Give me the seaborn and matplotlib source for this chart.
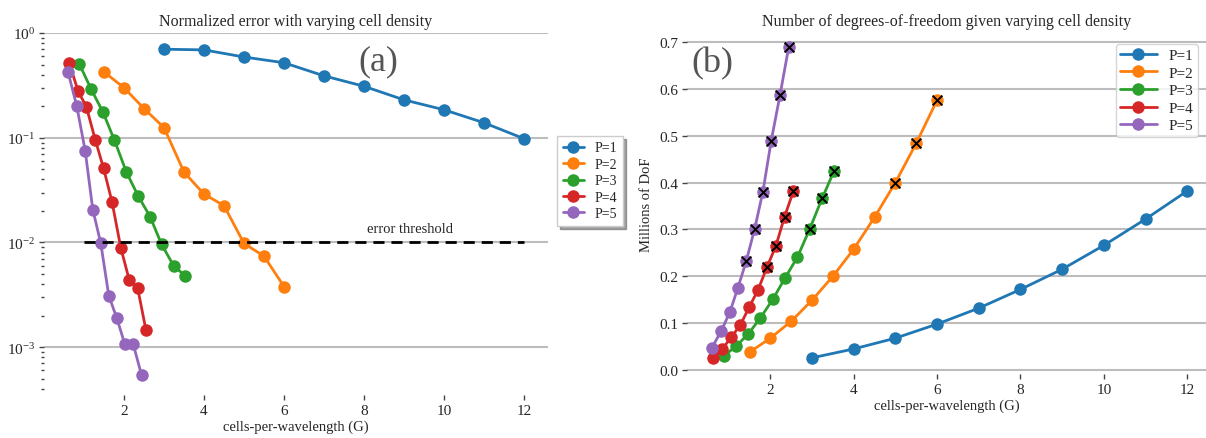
import numpy as np
import pandas as pd
import matplotlib
matplotlib.use("Agg")
import matplotlib.pyplot as plt
import seaborn as sns

# ---------------- data ----------------
labels = ["P=1", "P=2", "P=3", "P=4", "P=5"]

g_p1 = [3, 4, 5, 6, 7, 8, 9, 10, 11, 12]
g_p2 = [1.5, 2.0, 2.5, 3.0, 3.5, 4.0, 4.5, 5.0, 5.5, 6.0]
g_p3 = [0.88, 1.18, 1.47, 1.76, 2.06, 2.35, 2.65, 2.94, 3.24, 3.53]
g_p4 = [0.63, 0.85, 1.06, 1.28, 1.49, 1.70, 1.92, 2.13, 2.34, 2.55]
g_p5 = [0.60, 0.82, 1.03, 1.22, 1.42, 1.62, 1.82, 2.02, 2.23, 2.44]

err_p1 = [0.70, 0.69, 0.59, 0.52, 0.39, 0.31, 0.23, 0.185, 0.139, 0.098]
err_p2 = [0.425, 0.30, 0.19, 0.125, 0.047, 0.029, 0.0225, 0.0098, 0.0074, 0.0038]
err_p3 = [0.51, 0.29, 0.177, 0.095, 0.047, 0.028, 0.0177, 0.0096, 0.0060, 0.0048]
err_p4 = [0.52, 0.28, 0.197, 0.096, 0.051, 0.0245, 0.0089, 0.0044, 0.0037, 0.00145]
err_p5 = [0.425, 0.20, 0.075, 0.0206, 0.0098, 0.0031, 0.0019, 0.00107, 0.00107, 0.00054]

dof_p1 = [0.026, 0.045, 0.068, 0.098, 0.132, 0.172, 0.215, 0.266, 0.322, 0.382]
dof_p2 = [0.038, 0.068, 0.104, 0.149, 0.200, 0.258, 0.326, 0.400, 0.484, 0.576]
dof_p3 = [0.030, 0.051, 0.077, 0.111, 0.151, 0.196, 0.241, 0.300, 0.366, 0.425]
dof_p4 = [0.025, 0.045, 0.070, 0.096, 0.134, 0.170, 0.220, 0.264, 0.327, 0.381]
dof_p5 = [0.048, 0.083, 0.124, 0.175, 0.232, 0.300, 0.380, 0.489, 0.586, 0.689]

error_threshold = 0.01
threshold_range = [1.0, 12.0]

gs = [g_p1, g_p2, g_p3, g_p4, g_p5]
errs = [err_p1, err_p2, err_p3, err_p4, err_p5]
dofs = [dof_p1, dof_p2, dof_p3, dof_p4, dof_p5]

rows = []
for lab, g, e, d in zip(labels, gs, errs, dofs):
    for gi, ei, di in zip(g, e, d):
        rows.append({"P": lab, "G": gi, "err": ei, "dof": di,
                     "ok": ei <= error_threshold})
df = pd.DataFrame(rows)

# ---------------- style ----------------
sns.set_style("white")
plt.rcParams["font.family"] = ["Liberation Serif", "DejaVu Serif"]
plt.rcParams["mathtext.fontset"] = "stix"

palette = sns.color_palette("tab10", 5)
grid_color = "#bdbdbd"

fig = plt.figure(figsize=(12.06, 4.39), dpi=100)
W, H = 1206, 439
ax1 = fig.add_axes([44 / W, 1 - 396 / H, (548 - 44) / W, (396 - 34) / H])
ax2 = fig.add_axes([687 / W, 1 - 375 / H, (1206 - 687) / W, (375 - 34) / H])

line_kw = dict(marker="o", markersize=9, markeredgewidth=0, linewidth=2,
               sort=False, estimator=None)

# ---------- panel (a) ----------
sns.lineplot(data=df, x="G", y="err", hue="P", palette=palette, ax=ax1,
             legend=True, **line_kw)
ax1.set_yscale("log")
ax1.set_xlim(0, 12.6)
ax1.set_ylim(3.5e-4, 1.0)
ax1.plot(threshold_range, [error_threshold] * 2, color="black",
         linestyle=(0, (4, 2.5)), linewidth=2, zorder=5)
ax1.text(9.15, 0.0118, "error threshold", ha="center", va="bottom",
         fontsize=10.5)
ax1.text(8.35, 0.54, "(a)", ha="center", va="center", fontsize=26,
         color="#555555")
ax1.set_title("Normalized error with varying cell density", fontsize=11.5,
              pad=6)
ax1.set_xlabel("cells-per-wavelength (G)", fontsize=10.5, labelpad=2)
ax1.set_ylabel("")
ax1.set_xticks([2, 4, 6, 8, 10, 12])
ax1.yaxis.grid(True, which="major", color=grid_color, linewidth=1.5)
ax1.set_axisbelow(True)
leg1 = ax1.legend(loc="upper left", bbox_to_anchor=(1.005, 0.735),
                  fontsize=10, shadow=True, frameon=True, fancybox=False,
                  labelspacing=0.25, handlelength=1.5, borderpad=0.4,
                  edgecolor="#cccccc")

# ---------- panel (b) ----------
sns.lineplot(data=df, x="G", y="dof", hue="P", palette=palette, ax=ax2,
             legend=True, **line_kw)
ok = df[df["ok"]]
sns.scatterplot(data=ok, x="G", y="dof", marker="x", color="black", s=50,
                linewidth=1.4, ax=ax2, legend=False, zorder=6)
ax2.set_xlim(0, 12.45)
ax2.set_ylim(-0.0085, 0.719)
ax2.text(0.6, 0.655, "(b)", ha="center", va="center", fontsize=26,
         color="#555555")
ax2.set_title("Number of degrees-of-freedom given varying cell density",
              fontsize=11.5, pad=6)
ax2.set_xlabel("cells-per-wavelength (G)", fontsize=10.5, labelpad=2)
ax2.set_ylabel("Millions of DoF", fontsize=10.5)
ax2.set_xticks([2, 4, 6, 8, 10, 12])
ax2.set_yticks([0.0, 0.1, 0.2, 0.3, 0.4, 0.5, 0.6, 0.7])
ax2.yaxis.grid(True, which="major", color=grid_color, linewidth=1.5)
ax2.set_axisbelow(True)
leg2 = ax2.legend(loc="upper right", bbox_to_anchor=(1.0, 0.99),
                  fontsize=11, frameon=True, fancybox=True,
                  labelspacing=0.25, handlelength=2.4, borderpad=0.3,
                  edgecolor="#cccccc")

for ax in (ax1, ax2):
    sns.despine(ax=ax, left=True, bottom=True, top=True, right=True)
    ax.tick_params(axis="both", which="both", direction="out", length=3.5,
                   width=1, color="#444444", labelsize=11, pad=3,
                   left=True, bottom=True)
    ax.tick_params(axis="y", which="minor", length=2.5)

fig.savefig("out.png", dpi=100)
